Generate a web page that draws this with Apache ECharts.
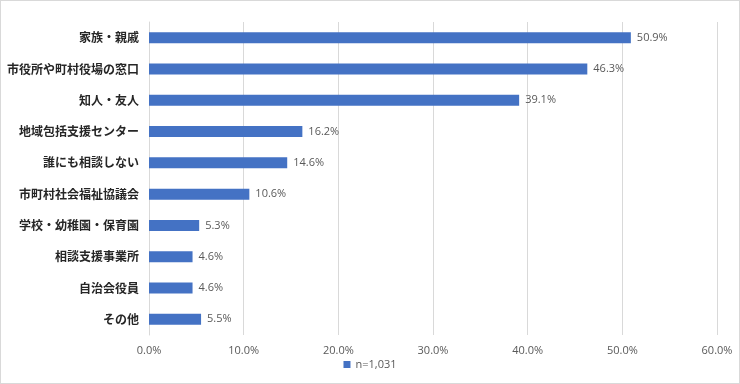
<!DOCTYPE html>
<html><head><meta charset="utf-8">
<script src="https://cdn.jsdelivr.net/npm/echarts@6/dist/echarts.min.js"></script>
<style>html,body{margin:0;padding:0;background:#fff}#c{width:740px;height:384px;box-sizing:border-box;border:1px solid #d9d9d9}</style>
</head><body><div id="c"></div>
<script>
const categories = ['家族・親戚','市役所や町村役場の窓口','知人・友人','地域包括支援センター','誰にも相談しない','市町村社会福祉協議会','学校・幼稚園・保育園','相談支援事業所','自治会役員','その他'];
const values = [50.9,46.3,39.1,16.2,14.6,10.6,5.3,4.6,4.6,5.5];
const seriesName = 'n=1,031';
const chart = echarts.init(document.getElementById('c'));
chart.setOption({
  animation:false,
  grid:{left:148,right:22,top:21,bottom:48},
  legend:{bottom:8,left:'center',itemWidth:7,itemHeight:7,icon:'rect',itemGap:4,
    textStyle:{fontFamily:'Open Sans, Noto Sans CJK JP',fontSize:11,color:'#595959'},data:[seriesName]},
  xAxis:{type:'value',min:0,max:60,interval:10,
    axisLabel:{formatter:v=>v.toFixed(1)+'%',fontFamily:'Open Sans, Noto Sans CJK JP',fontSize:11,color:'#595959',margin:10},
    splitLine:{lineStyle:{color:'#d9d9d9'}},axisLine:{show:false},axisTick:{show:false}},
  yAxis:{type:'category',inverse:true,data:categories,
    axisLine:{lineStyle:{color:'#d9d9d9'}},axisTick:{show:false},
    axisLabel:{fontFamily:'Noto Sans CJK JP',fontWeight:'bold',fontSize:12,color:'#262626',margin:10}},
  series:[{name:seriesName,type:'bar',data:values,barWidth:11,
    itemStyle:{color:'#4472C4'},
    label:{show:true,position:'right',formatter:p=>p.value.toFixed(1)+'%',fontFamily:'Open Sans, Noto Sans CJK JP',fontSize:11,color:'#595959',distance:6}}]
});
</script></body></html>
